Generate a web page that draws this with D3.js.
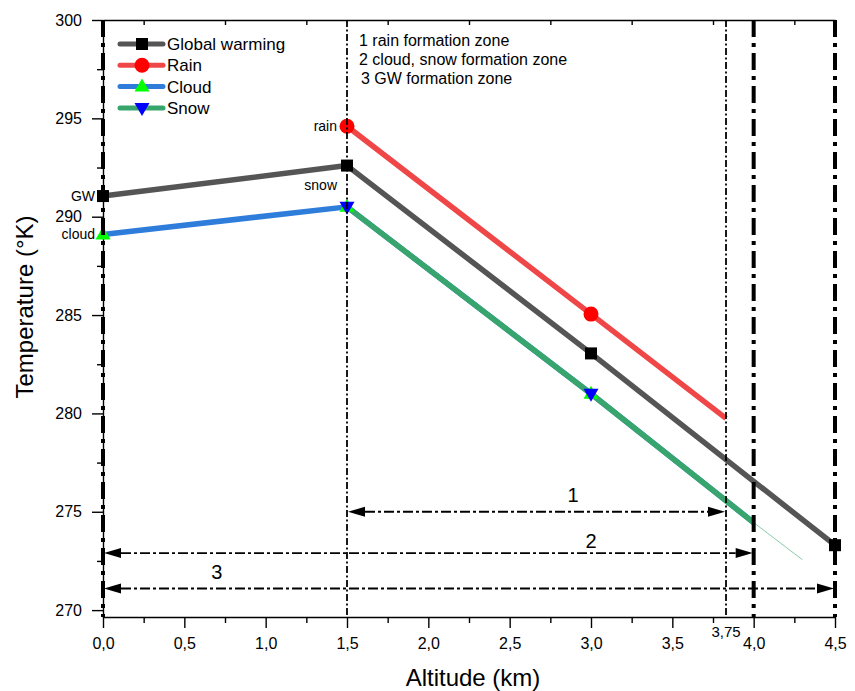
<!DOCTYPE html>
<html><head><meta charset="utf-8">
<script src="https://cdn.jsdelivr.net/npm/d3@7"></script>
<style>body{margin:0;background:#fff}text{font-family:"Liberation Sans",Arial,sans-serif;fill:#000}</style>
</head><body>
<script>
// ---- data ----
const xMajorTicks = [0, 0.5, 1.0, 1.5, 2.0, 2.5, 3.0, 3.5, 4.0, 4.5];
const xMinorTicks = [0.25, 0.75, 1.25, 1.75, 2.25, 2.75, 3.25, 3.75, 4.25];
const yMajorTicks = [270, 275, 280, 285, 290, 295, 300];
const yMinorTicks = [272.5, 277.5, 282.5, 287.5, 292.5, 297.5];

const gwAlt = [0, 1.5, 3.0, 4.5];
const gwTemp = [291.05, 292.6, 283.05, 273.3];
const gwMark = [true, true, true, true];

const rainAlt = [1.5, 3.0, 3.83];
const rainTemp = [294.6, 285.05, 279.75];
const rainMark = [true, true, false];

const cloudAlt = [0, 1.5, 3.0, 4.0, 4.5];
const cloudTemp = [289.1, 290.5, 281.0, 274.45, 271.5];
const cloudMark = [true, true, true, false, false];
const cloudLineEnd = 4.0;

const snowAlt = [1.5, 3.0, 4.0, 4.5];
const snowTemp = [290.5, 281.0, 274.45, 271.3];
const snowMark = [true, true, false, false];
const snowLineEnd = 4.0;
const snowTailEnd = 4.3;

const seriesNames = ["Global warming", "Rain", "Cloud", "Snow"];
const lineColors = ["#555555", "#ef4747", "#2f7ddb", "#38a66c"];
const markerColors = ["#000000", "#ff0000", "#00ff00", "#0000ff"];
const markerShapes = ["square", "circle", "up", "down"];

const thickLines = [0, 4.0, 4.5];
const thinLines = [1.5, 3.83];
const thinLineLabel = "3,75";

const zoneArrowsFrom = [1.5, 0, 0];
const zoneArrowsTo = [3.83, 4.0, 4.5];
const zoneArrowsTemp = [275.0, 272.9, 271.1];
const zoneLabels = ["1", "2", "3"];
const zoneLabelAlt = [2.89, 3.0, 0.7];
const zoneLabelTemp = [275.85, 273.5, 271.95];

const zoneNotes = ["1 rain formation zone", "2 cloud, snow formation zone", "3 GW formation zone"];

const pointLabels = ["GW", "cloud", "rain", "snow"];
const pointLabelAlt = [0, 0, 1.5, 1.5];
const pointLabelTemp = [291.05, 289.1, 294.6, 291.6];

// ---- scales ----
const W = 855, H = 691;
const x = d3.scaleLinear().domain([0, 4.5]).range([103, 835]);
const y = d3.scaleLinear().domain([269.65, 300]).range([617, 20]);
const fmt = d => d3.format(".1f")(d).replace(".", ",");

const svg = d3.select("body").append("svg").attr("width", W).attr("height", H);
svg.append("rect").attr("width", W).attr("height", H).attr("fill", "#fff");

// ---- axes ----
const gx = svg.append("g").attr("transform", `translate(0,${y.range()[0]})`)
  .call(d3.axisBottom(x).tickValues(xMajorTicks).tickFormat(fmt).tickSize(11).tickSizeOuter(0).tickPadding(10));
svg.append("g").attr("transform", `translate(0,${y.range()[0]})`)
  .call(d3.axisBottom(x).tickValues(xMinorTicks).tickFormat("").tickSize(6).tickSizeOuter(0))
  .call(g => g.select(".domain").remove());
const gy = svg.append("g").attr("transform", `translate(${x(0)},0)`)
  .call(d3.axisLeft(y).tickValues(yMajorTicks).tickFormat(d3.format("d")).tickSize(11).tickSizeOuter(0).tickPadding(10));
svg.append("g").attr("transform", `translate(${x(0)},0)`)
  .call(d3.axisLeft(y).tickValues(yMinorTicks).tickFormat("").tickSize(6).tickSizeOuter(0))
  .call(g => g.select(".domain").remove());
// top frame
svg.append("g").attr("transform", `translate(0,${y(300)})`)
  .call(d3.axisTop(x).tickValues(xMinorTicks).tickFormat("").tickSize(-5).tickSizeOuter(0));
svg.selectAll(".domain, .tick line").attr("stroke", "#000").attr("stroke-width", 1.4);
gx.selectAll("text").attr("font-size", 16).attr("font-family", "Liberation Sans, Arial").attr("fill", "#111");
gy.selectAll("text").attr("font-size", 16).attr("font-family", "Liberation Sans, Arial").attr("fill", "#111");

// axis titles
svg.append("text").attr("x", 473).attr("y", 686).attr("text-anchor", "middle")
  .attr("font-size", 24).text("Altitude (km)");
svg.append("text").attr("transform", "translate(33,307) rotate(-90)").attr("text-anchor", "middle")
  .attr("font-size", 24).text("Temperature (°K)");

// ---- series ----
function pts(alt, temp) { return alt.map((a, i) => [a, temp[i]]); }
const line = d3.line().x(d => x(d[0])).y(d => y(d[1]));
const lw = 5.5;

const gwPts = pts(gwAlt, gwTemp);
const rainPts = pts(rainAlt, rainTemp);
const cloudPts = pts(cloudAlt, cloudTemp);
const snowPts = pts(snowAlt, snowTemp);

const gLines = svg.append("g").attr("fill", "none").attr("stroke-linejoin", "round");
gLines.append("path").attr("d", line(gwPts)).attr("stroke", lineColors[0]).attr("stroke-width", lw);
gLines.append("path").attr("d", line(rainPts)).attr("stroke", lineColors[1]).attr("stroke-width", lw);
gLines.append("path").attr("d", line(cloudPts.filter(p => p[0] <= cloudLineEnd))).attr("stroke", lineColors[2]).attr("stroke-width", lw);
// faint tail of snow beyond 4.0
const sA = snowPts.find(p => p[0] === snowLineEnd), sB = snowPts[snowPts.length - 1];
const tailT = sA[1] + (sB[1] - sA[1]) * (snowTailEnd - sA[0]) / (sB[0] - sA[0]);
gLines.append("path").attr("d", line([sA, [snowTailEnd, tailT]])).attr("stroke", lineColors[3]).attr("stroke-width", 1).attr("opacity", 0.6);
gLines.append("path").attr("d", line(snowPts.filter(p => p[0] <= snowLineEnd))).attr("stroke", lineColors[3]).attr("stroke-width", lw);

function marker(g, shape, cx, cy, color) {
  if (shape === "square") g.append("rect").attr("x", cx - 6).attr("y", cy - 6).attr("width", 12).attr("height", 12).attr("fill", color);
  else if (shape === "circle") g.append("circle").attr("cx", cx).attr("cy", cy).attr("r", 7.5).attr("fill", color);
  else if (shape === "up") g.append("path").attr("d", `M${cx},${cy - 8}L${cx + 7.5},${cy + 5}L${cx - 7.5},${cy + 5}Z`).attr("fill", color);
  else g.append("path").attr("d", `M${cx},${cy + 8}L${cx + 7.5},${cy - 5}L${cx - 7.5},${cy - 5}Z`).attr("fill", color);
}
const gMk = svg.append("g");
[[gwPts, gwMark], [rainPts, rainMark], [cloudPts, cloudMark], [snowPts, snowMark]].forEach(([p, m], si) => {
  p.forEach((d, i) => { if (m[i]) marker(gMk, markerShapes[si], x(d[0]), y(d[1]), markerColors[si]); });
});

// point labels
pointLabels.forEach((t, i) => {
  const xa = x(pointLabelAlt[i]) - (i < 2 ? 8 : 10);
  svg.append("text").attr("x", xa).attr("y", y(pointLabelTemp[i]) + 5).attr("text-anchor", "end")
    .attr("font-size", 14).attr("fill", "#111").text(t);
});

// ---- vertical zone lines ----
const yTop = y(300), yBot = y.range()[0];
thinLines.forEach(v => {
  svg.append("line").attr("x1", x(v)).attr("x2", x(v)).attr("y1", yTop).attr("y2", yBot)
    .attr("stroke", "#000").attr("stroke-width", 1.8).attr("stroke-dasharray", "7,2.5,2,2.5");
});
svg.append("text").attr("x", x(thinLines[1])).attr("y", 637).attr("text-anchor", "middle")
  .attr("font-size", 15).attr("fill", "#111").text(thinLineLabel);
thickLines.forEach(v => {
  svg.append("line").attr("x1", x(v)).attr("x2", x(v)).attr("y1", yTop).attr("y2", yBot)
    .attr("stroke", "#000").attr("stroke-width", 4).attr("stroke-dasharray", "17,6,4,6");
});

// ---- zone arrows ----
zoneArrowsTemp.forEach((t, i) => {
  const yy = y(t), x1 = x(zoneArrowsFrom[i]), x2 = x(zoneArrowsTo[i]);
  const L = 18, hw = 5;
  svg.append("line").attr("x1", x1 + L).attr("x2", x2 - L).attr("y1", yy).attr("y2", yy)
    .attr("stroke", "#000").attr("stroke-width", 1.8).attr("stroke-dasharray", "10,3,3,3");
  svg.append("path").attr("d", `M${x1 + 1},${yy}L${x1 + L},${yy - hw}L${x1 + L},${yy + hw}Z`).attr("fill", "#000");
  svg.append("path").attr("d", `M${x2 - 1},${yy}L${x2 - L},${yy - hw}L${x2 - L},${yy + hw}Z`).attr("fill", "#000");
  svg.append("text").attr("x", x(zoneLabelAlt[i])).attr("y", y(zoneLabelTemp[i]) + 7).attr("text-anchor", "middle")
    .attr("font-size", 20).attr("fill", "#111").text(zoneLabels[i]);
});

// ---- zone notes ----
zoneNotes.forEach((t, i) => {
  svg.append("text").attr("x", 359 + (i === 2 ? 2 : 0)).attr("y", 46 + i * 19)
    .attr("font-size", 16).attr("fill", "#111").text(t);
});

// ---- legend ----
const lg = svg.append("g");
seriesNames.forEach((n, i) => {
  const yy = 44 + i * 21.3;
  lg.append("line").attr("x1", 120).attr("x2", 163).attr("y1", yy).attr("y2", yy)
    .attr("stroke", lineColors[i]).attr("stroke-width", 5).attr("stroke-linecap", "round");
  marker(lg, markerShapes[i], 142, yy, markerColors[i]);
  lg.append("text").attr("x", 167).attr("y", yy + 6).attr("font-size", 17).attr("fill", "#111").text(n);
});
</script>
</body></html>
